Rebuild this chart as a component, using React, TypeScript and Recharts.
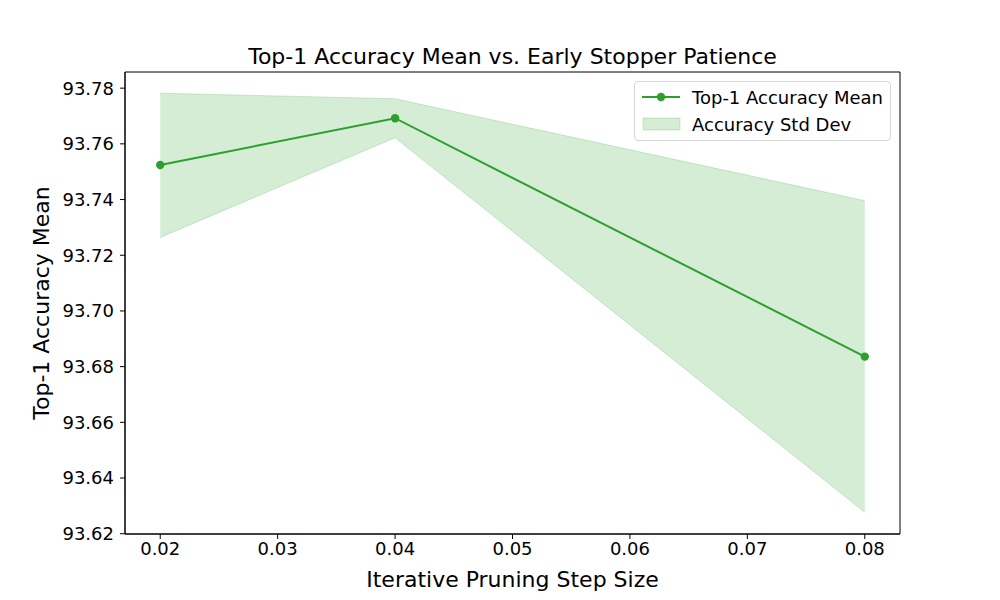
import React from 'react';
import { ComposedChart, Line, Area, XAxis, YAxis, Label, ReferenceArea } from 'recharts';

const steps = [0.02, 0.04, 0.08];
const meanAcc = [93.7524, 93.7692, 93.6836];
const stdLow = [93.7264, 93.7622, 93.6277];
const stdHigh = [93.7782, 93.7762, 93.7396];
const xTicks = [0.02, 0.03, 0.04, 0.05, 0.06, 0.07, 0.08];
const yTicks = [93.62, 93.64, 93.66, 93.68, 93.7, 93.72, 93.74, 93.76, 93.78];
const xDomain = [0.017, 0.083];
const yDomain = [93.6199, 93.7858];

const data = steps.map((s, i) => ({ step: s, mean: meanAcc[i], band: [stdLow[i], stdHigh[i]] }));

const GREEN = '#2ca02c';
const FONT = 'DejaVu Sans, sans-serif';

const LegendBox = () => (
  <div
    style={{
      position: 'absolute',
      left: 634,
      top: 81,
      width: 257,
      height: 60,
      border: '1px solid #d6d6d6',
      borderRadius: 4,
      background: 'rgba(255,255,255,0.8)',
      fontFamily: FONT,
      fontSize: 18,
      color: '#000',
      boxSizing: 'border-box',
    }}
  >
    <div style={{ position: 'absolute', left: 7, top: 4, display: 'flex', alignItems: 'center', height: 22 }}>
      <svg width={40} height={12}>
        <line x1={0} y1={6} x2={38} y2={6} stroke={GREEN} strokeWidth={2} />
        <circle cx={19} cy={6} r={4.2} fill={GREEN} />
      </svg>
      <span style={{ marginLeft: 10 }}>Top-1 Accuracy Mean</span>
    </div>
    <div style={{ position: 'absolute', left: 7, top: 31, display: 'flex', alignItems: 'center', height: 22 }}>
      <svg width={40} height={14}>
        <rect x={1} y={1} width={37} height={12} fill={GREEN} fillOpacity={0.2} stroke={GREEN} strokeOpacity={0.2} />
      </svg>
      <span style={{ marginLeft: 10 }}>Accuracy Std Dev</span>
    </div>
  </div>
);

export default function App() {
  return (
    <div style={{ position: 'absolute', left: 0, top: 0, width: 1000, height: 600, background: '#fff' }}>
      <div
        style={{
          position: 'absolute',
          left: 125,
          width: 775,
          top: 44,
          textAlign: 'center',
          fontFamily: FONT,
          fontSize: 22,
          lineHeight: '26px',
          color: '#000',
        }}
      >
        Top-1 Accuracy Mean vs. Early Stopper Patience
      </div>
      <ComposedChart
        width={1000}
        height={600}
        data={data}
        margin={{ top: 72, right: 100, bottom: 16, left: 10 }}
        style={{ fontFamily: FONT }}
      >
        <XAxis
          dataKey="step"
          type="number"
          domain={xDomain}
          ticks={xTicks}
          tickFormatter={(v: number) => v.toFixed(2)}
          allowDataOverflow
          height={50}
          stroke="#000"
          tick={{ fill: '#000', fontSize: 18 }}
          tickSize={5}
          tickMargin={3}
        >
          <Label value="Iterative Pruning Step Size" position="insideBottom" offset={-3} style={{ fontSize: 22, fill: '#000' }} />
        </XAxis>
        <YAxis
          type="number"
          domain={yDomain}
          ticks={yTicks}
          tickFormatter={(v: number) => v.toFixed(2)}
          allowDataOverflow
          width={115}
          stroke="#000"
          tick={{ fill: '#000', fontSize: 18 }}
          tickSize={5}
          tickMargin={6}
        >
          <Label value="Top-1 Accuracy Mean" angle={-90} position="insideLeft" offset={31} style={{ fontSize: 22, fill: '#000', textAnchor: 'middle' }} />
        </YAxis>
        <Area
          dataKey="band"
          type="linear"
          fill={GREEN}
          fillOpacity={0.2}
          stroke={GREEN}
          strokeOpacity={0.2}
          strokeWidth={1}
          isAnimationActive={false}
          dot={false}
          activeDot={false}
        />
        <Line
          dataKey="mean"
          type="linear"
          stroke={GREEN}
          strokeWidth={2}
          dot={{ r: 4.2, fill: GREEN, stroke: GREEN, strokeWidth: 0 }}
          activeDot={false}
          isAnimationActive={false}
        />
        <ReferenceArea
          x1={xDomain[0]}
          x2={xDomain[1]}
          y1={yDomain[0]}
          y2={yDomain[1]}
          fill="none"
          stroke="#000"
          strokeWidth={1}
          ifOverflow="visible"
        />
      </ComposedChart>
      <LegendBox />
    </div>
  );
}
